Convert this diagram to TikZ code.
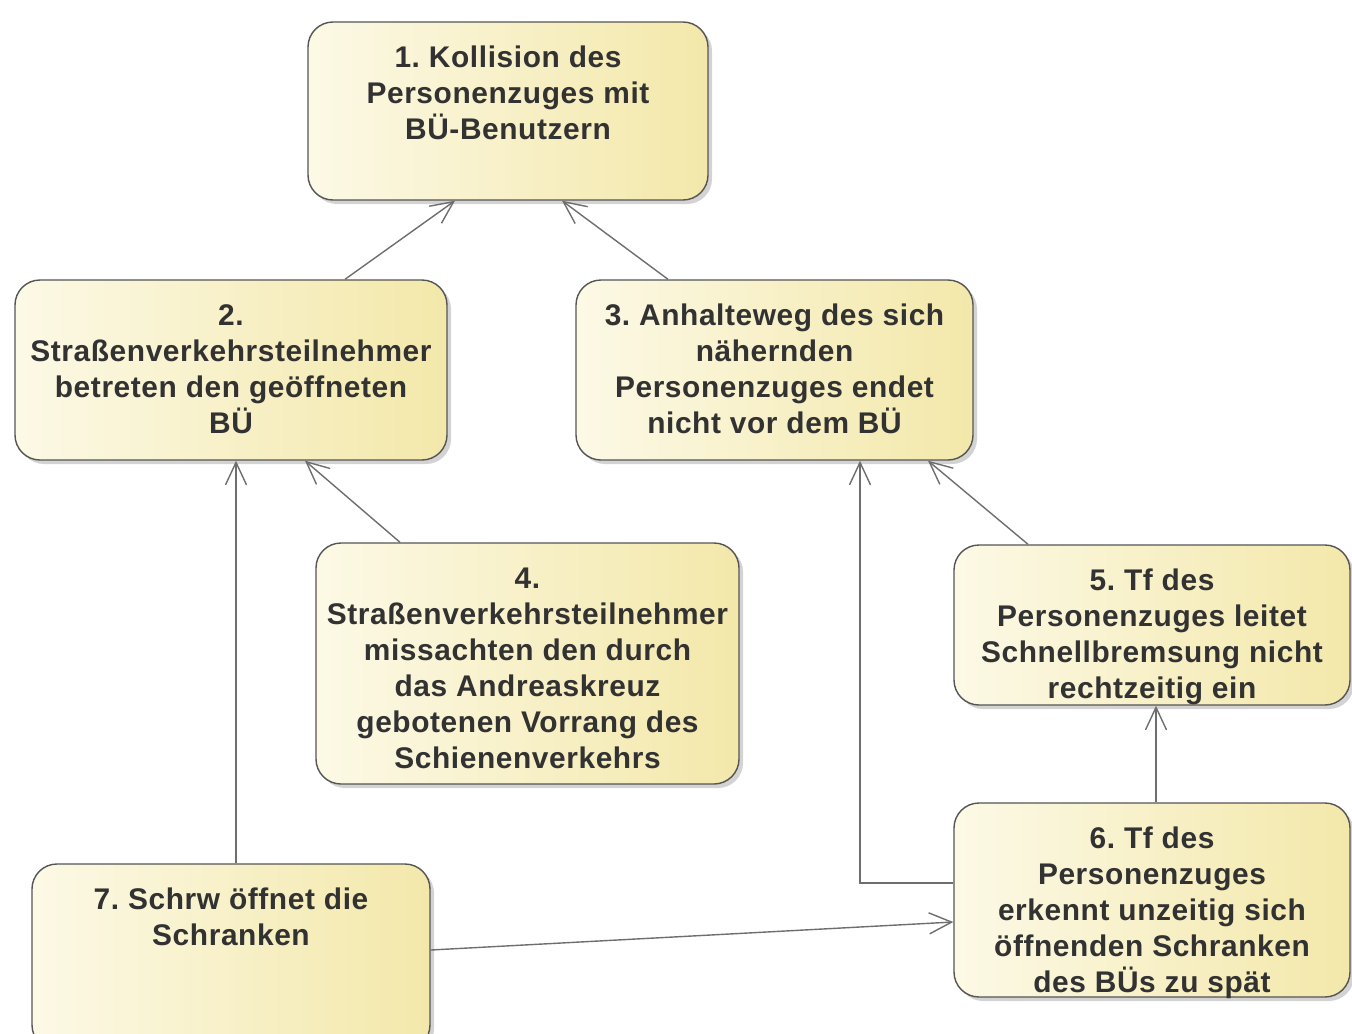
\documentclass[tikz,border=0pt]{standalone}
\usepackage{fontspec}
\setmainfont[LetterSpace=2]{Liberation Sans}
\usetikzlibrary{arrows.meta,shadows}
\definecolor{boxleft}{RGB}{252,249,230}
\definecolor{boxright}{RGB}{243,232,170}
\definecolor{boxline}{RGB}{85,85,85}
\definecolor{linkgray}{RGB}{110,110,110}
\definecolor{textgray}{RGB}{50,50,50}
\newcommand{\boxtext}[3]{\parbox[c][#2][t]{#1}{\centering\frenchspacing\strut #3}}
\tikzset{
	goalbox/.style={draw=boxline, line width=0.8pt, rounded corners=0.5cm, left color=boxleft, right color=boxright,
		inner xsep=0pt, inner ysep=0.41cm, text=textgray, font=\fontsize{17}{20.5}\selectfont\bfseries,
		drop shadow={shadow xshift=0.08cm, shadow yshift=-0.08cm, opacity=0.35}},
	link/.style={draw=linkgray, line width=0.8pt, -{Straight Barb[length=0.45cm,width=0.42cm]}}
}
\begin{document}
\begin{tikzpicture}
	\useasboundingbox (0,0) rectangle (27.04,-20.66);
	\node[goalbox] (n1) at (10.16,-2.22) {\boxtext{8cm}{2.74cm}{1. Kollision des\\Personenzuges mit\\BÜ-Benutzern}};
	\node[goalbox] (n2) at (4.62,-7.4) {\boxtext{8.64cm}{2.78cm}{2.\\Straßenverkehrsteilnehmer\\betreten den geöffneten\\BÜ}};
	\node[goalbox] (n3) at (15.49,-7.4) {\boxtext{7.94cm}{2.78cm}{3. Anhalteweg des sich\\nähernden\\Personenzuges endet\\nicht vor dem BÜ}};
	\node[goalbox] (n4) at (10.55,-13.27) {\boxtext{8.46cm}{4.00cm}{4.\\Straßenverkehrsteilnehmer\\missachten den durch\\das Andreaskreuz\\gebotenen Vorrang des\\Schienenverkehrs}};
	\node[goalbox] (n5) at (23.04,-12.5) {\boxtext{7.92cm}{2.38cm}{5. Tf des\\Personenzuges leitet\\Schnellbremsung nicht\\rechtzeitig ein}};
	\node[goalbox] (n6) at (23.04,-18.0) {\boxtext{7.92cm}{3.06cm}{6. Tf des\\Personenzuges\\erkennt unzeitig sich\\öffnenden Schranken\\des BÜs zu spät}};
	\node[goalbox] (n7) at (4.62,-19.14) {\boxtext{7.96cm}{2.90cm}{7. Schrw öffnet die\\Schranken}};
	% links between the boxes
	\draw[link] ([xshift=2.28cm]n2.north) -- ([xshift=-1.06cm]n1.south);
	\draw[link] ([xshift=-2.13cm]n3.north) -- ([xshift=1.08cm]n1.south);
	\draw[link] ([xshift=-2.55cm]n4.north) -- ([xshift=1.48cm]n2.south);
	\draw[link] ([xshift=0.1cm]n7.north) -- ([xshift=0.1cm]n2.south);
	\draw[link] ([xshift=-2.48cm]n5.north) -- ([xshift=3.07cm]n3.south);
	\draw[link] ([yshift=0.34cm]n6.west) -| ([xshift=1.71cm]n3.south);
	\draw[link] ([xshift=0.08cm]n6.north) -- ([xshift=0.08cm]n5.south);
	\draw[link] ([yshift=0.14cm]n7.east) -- ([yshift=-0.44cm]n6.west);
\end{tikzpicture}
\end{document}
